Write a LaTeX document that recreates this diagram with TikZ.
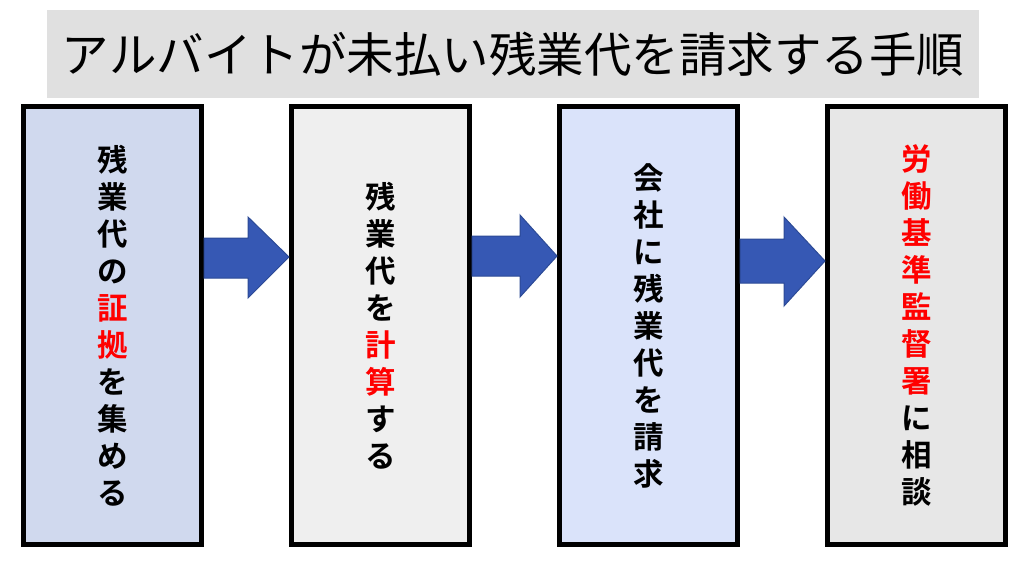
\documentclass[tikz,border=0pt]{standalone}
\usepackage{fontspec}
\newfontfamily\cjk{Noto Sans CJK JP}
\newfontfamily\cjkbold{Noto Sans CJK JP Bold}
\definecolor{titlebg}{RGB}{224,224,224}
\definecolor{fillA}{RGB}{208,217,238}
\definecolor{fillB}{RGB}{239,239,239}
\definecolor{fillC}{RGB}{218,227,250}
\definecolor{fillD}{RGB}{231,231,231}
\definecolor{arrowblue}{RGB}{54,88,180}
\definecolor{arrowedge}{RGB}{44,74,150}
\definecolor{keyred}{RGB}{255,0,0}
\begin{document}
\begin{tikzpicture}[x=1pt,y=-1pt,
  stepbox/.style={draw=black, line width=5pt, minimum width=178pt, minimum height=438pt,
    inner sep=0pt, align=center, text=black,
    font=\cjkbold\fontsize{30.5}{37}\selectfont},
  blockarrow/.style={fill=arrowblue, draw=arrowedge, line width=1pt, line join=miter}]
\useasboundingbox (0,0) rectangle (1024,562);
\fill[white] (0,0) rectangle (1024,562);
% title
\node[fill=titlebg, minimum width=932pt, minimum height=88pt, inner sep=0pt,
      font=\cjk\fontsize{47.5}{50}\selectfont] (title) at (513,54)
  {アルバイトが未払い残業代を請求する手順};
% boxes
\node[stepbox, fill=fillA] (b1) at (112.5,325.5)
  {残\\業\\代\\の\\\textcolor{keyred}{証}\\\textcolor{keyred}{拠}\\を\\集\\め\\る};
\node[stepbox, fill=fillB] (b2) at (380.5,325.5)
  {残\\業\\代\\を\\\textcolor{keyred}{計}\\\textcolor{keyred}{算}\\す\\る};
\node[stepbox, fill=fillC] (b3) at (648.5,325.5)
  {会\\社\\に\\残\\業\\代\\を\\請\\求};
\node[stepbox, fill=fillD] (b4) at (916.5,325.5)
  {\textcolor{keyred}{労}\\\textcolor{keyred}{働}\\\textcolor{keyred}{基}\\\textcolor{keyred}{準}\\\textcolor{keyred}{監}\\\textcolor{keyred}{督}\\\textcolor{keyred}{署}\\に\\相\\談};
% block arrows
\draw[blockarrow] (b1.east |- 0,238) -- (248,238) -- (248,217) -- (b2.west |- 0,257)
  -- (248,298) -- (248,278) -- (b1.east |- 0,278) -- cycle;
\draw[blockarrow] (b2.east |- 0,236) -- (520,236) -- (520,215) -- (b3.west |- 0,256)
  -- (520,297) -- (520,276) -- (b2.east |- 0,276) -- cycle;
\draw[blockarrow] (b3.east |- 0,239) -- (784,239) -- (784,217) -- (b4.west |- 0,261)
  -- (784,306) -- (784,283) -- (b3.east |- 0,283) -- cycle;
\end{tikzpicture}
\end{document}
